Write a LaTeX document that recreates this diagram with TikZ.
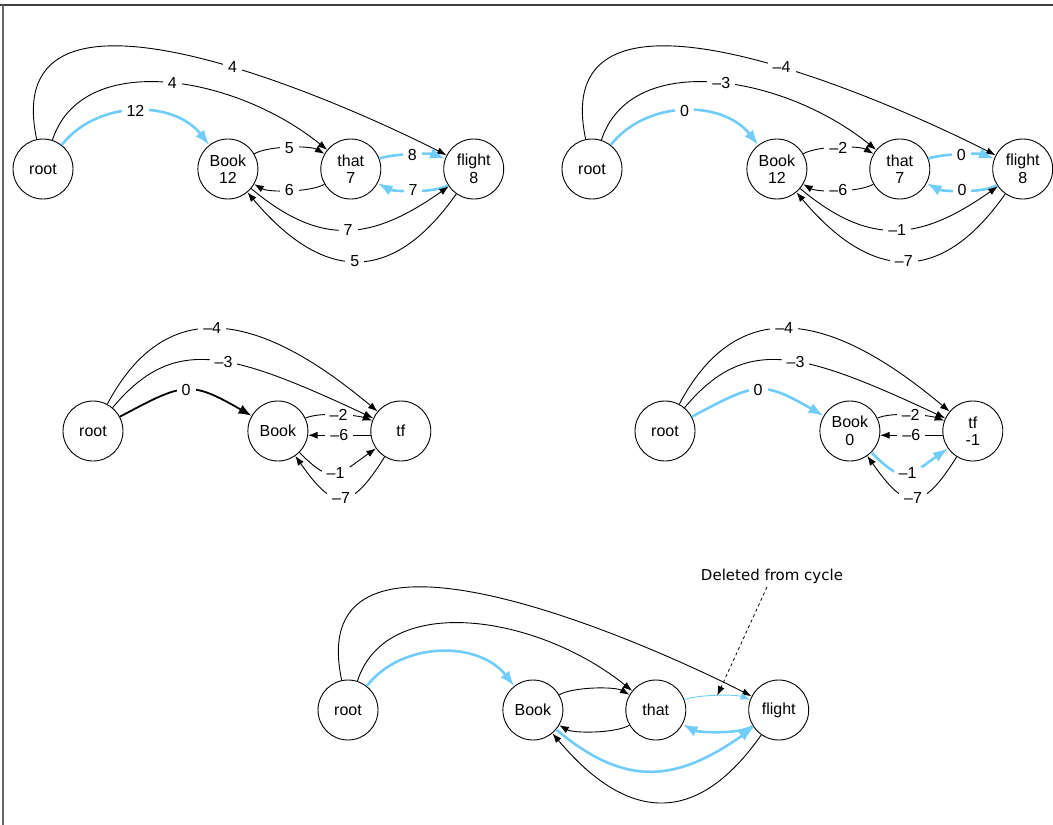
\documentclass[tikz,border=0pt]{standalone}
\usepackage{fontspec}
\setmainfont{Liberation Sans}
\newfontfamily\notefont{DejaVu Sans}
\usetikzlibrary{positioning,arrows.meta}

\definecolor{mstblue}{RGB}{112,204,250}
\newcommand{\wfont}{\fontsize{16}{17.5}\selectfont}

\tikzset{
  word/.style={circle, draw, minimum size=60pt, inner sep=0pt, align=center, font=\wfont},
  wt/.style={fill=white, inner xsep=5pt, inner ysep=0.5pt, font=\wfont},
  dep/.style={-{Latex[length=9.5pt,width=7pt]}},
  pick/.style={line width=1.8pt, -{Latex[length=13pt,width=10pt]}},
  mst/.style={draw=mstblue, line width=2.6pt, -{Latex[length=15pt,width=11pt]}},
  thinmst/.style={draw=mstblue, -{Latex[length=9.5pt,width=7pt]}},
}

\begin{document}
\begin{tikzpicture}[x=1pt, y=1pt, line width=0.9pt]
    \useasboundingbox (0,0) rectangle (1053,-825);
    \draw[black!75, line width=1.5pt] (0,-5) -- (1053,-5);
    \draw[black!60, line width=1.5pt] (3,-5) -- (3,-825);

    % first graph
    \node[word] (root1) at (43,-169) {root};
    \node[word, right=124pt of root1] (book1) {Book\\12};
    \node[word, right=62pt of book1] (that1) {that\\7};
    \node[word, right=62pt of that1] (flight1) {flight\\8};

    \draw[dep] (root1) to[out=102, in=153, out distance=195pt, in distance=120pt] node[wt, pos=.58] {4} (flight1);
    \draw[dep] (root1) to[out=72, in=141, out distance=95pt, in distance=120pt] node[wt, pos=.52] {4} (that1);
    \draw[mst] (root1) to[out=52, in=128] node[wt] {12} (book1);
    \draw[dep] (book1) to[out=30, in=150, looseness=.6] node[wt] {5} (that1);
    \draw[dep] (that1) to[out=210, in=-30, looseness=.6] node[wt] {6} (book1);
    \draw[mst] (that1) to[out=20, in=160, looseness=.6] node[wt] {8} (flight1);
    \draw[mst] (flight1) to[out=212, in=-28, looseness=.6] node[wt] {7} (that1);
    \draw[dep] (book1) to[out=-40, in=215, looseness=1.2] node[wt] {7} (flight1);
    \draw[dep] (flight1) to[out=235, in=-50, looseness=1.4] node[wt] {5} (book1);

    % second graph
    \node[word] (root2) at (592,-169) {root};
    \node[word, right=124pt of root2] (book2) {Book\\12};
    \node[word, right=62pt of book2] (that2) {that\\7};
    \node[word, right=62pt of that2] (flight2) {flight\\8};

    \draw[dep] (root2) to[out=102, in=153, out distance=195pt, in distance=120pt] node[wt, pos=.58] {–4} (flight2);
    \draw[dep] (root2) to[out=72, in=141, out distance=95pt, in distance=120pt] node[wt, pos=.52] {–3} (that2);
    \draw[mst] (root2) to[out=52, in=128] node[wt] {0} (book2);
    \draw[dep] (book2) to[out=30, in=150, looseness=.6] node[wt] {–2} (that2);
    \draw[dep] (that2) to[out=210, in=-30, looseness=.6] node[wt] {–6} (book2);
    \draw[mst] (that2) to[out=20, in=160, looseness=.6] node[wt] {0} (flight2);
    \draw[mst] (flight2) to[out=212, in=-28, looseness=.6] node[wt] {0} (that2);
    \draw[dep] (book2) to[out=-40, in=215, looseness=1.2] node[wt] {–1} (flight2);
    \draw[dep] (flight2) to[out=235, in=-50, looseness=1.4] node[wt] {–7} (book2);

    % contracted graph
    \node[word] (root3) at (93,-431) {root};
    \node[word, right=124pt of root3] (book3) {Book};
    \node[word, right=62pt of book3] (tf3) {tf};

    \draw[dep] (root3) to[out=62, in=140, out distance=135pt, in distance=140pt] node[wt, pos=.45] {–4} (tf3);
    \draw[dep] (root3) to[out=50, in=155, out distance=95pt, in distance=160pt] node[wt, pos=.55] {–3} (tf3);
    \draw[pick] (root3) to[out=28, in=150, looseness=1.4] node[wt] {0} (book3);
    \draw[dep] (book3) to[out=25, in=160, looseness=.6] node[wt] {–2} (tf3);
    \draw[dep] (tf3.188) -- node[wt] {–6} (book3.-8);
    \draw[dep] (book3) to[out=-45, in=215, looseness=1.6] node[wt] {–1} (tf3);
    \draw[dep] (tf3) to[out=238, in=-55, looseness=1.9] node[wt] {–7} (book3);

    % contracted graph, best tree
    \node[word] (root4) at (665,-431) {root};
    \node[word, right=124pt of root4] (book4) {Book\\0};
    \node[word, right=62pt of book4] (tf4) {tf\\-1};

    \draw[dep] (root4) to[out=62, in=140, out distance=135pt, in distance=140pt] node[wt, pos=.45] {–4} (tf4);
    \draw[dep] (root4) to[out=50, in=155, out distance=95pt, in distance=160pt] node[wt, pos=.55] {–3} (tf4);
    \draw[mst] (root4) to[out=28, in=150, looseness=1.4] node[wt] {0} (book4);
    \draw[dep] (book4) to[out=25, in=160, looseness=.6] node[wt] {–2} (tf4);
    \draw[dep] (tf4.188) -- node[wt] {–6} (book4.-8);
    \draw[mst] (book4) to[out=-45, in=215, looseness=1.6] node[wt] {–1} (tf4);
    \draw[dep] (tf4) to[out=238, in=-55, looseness=1.9] node[wt] {–7} (book4);

    % expanded graph
    \node[word] (root5) at (348,-710) {root};
    \node[word, right=124pt of root5] (book5) {Book};
    \node[word, right=62pt of book5] (that5) {that};
    \node[word, right=62pt of that5] (flight5) {flight};

    \draw[dep] (root5) to[out=102, in=153, out distance=195pt, in distance=120pt] (flight5);
    \draw[dep] (root5) to[out=72, in=141, out distance=95pt, in distance=120pt] (that5);
    \draw[mst] (root5) to[out=52, in=128] (book5);
    \draw[dep] (book5) to[out=30, in=150, looseness=.6] (that5);
    \draw[dep] (that5) to[out=210, in=-30, looseness=.6] (book5);
    \draw[thinmst] (that5) to[out=20, in=160, looseness=.6] coordinate[pos=.5] (del) (flight5);
    \draw[mst] (flight5) to[out=212, in=-28, looseness=.6] (that5);
    \draw[mst] (book5) to[out=-40, in=215, looseness=1.2] (flight5);
    \draw[dep] (flight5) to[out=235, in=-50, looseness=1.4] (book5);

    \node[font=\notefont\fontsize{15}{17}\selectfont] (note) at (772,-576) {Deleted from cycle};
    \draw[dep, dashed, line width=.8pt] (note) -- (del);
\end{tikzpicture}
\end{document}
